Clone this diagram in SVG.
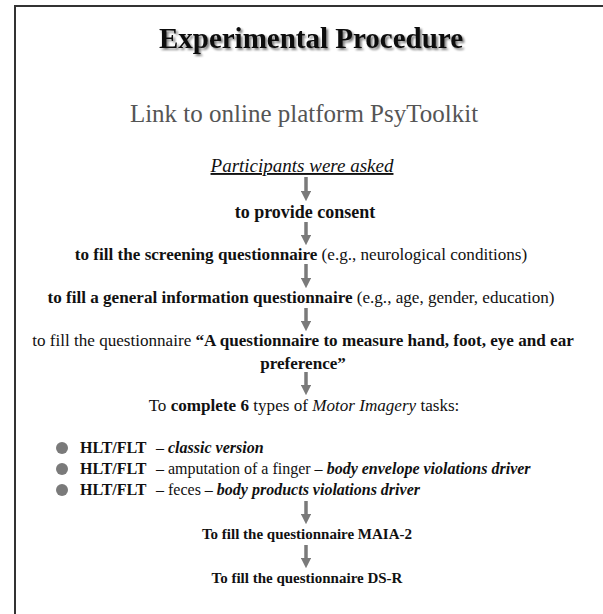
<svg xmlns="http://www.w3.org/2000/svg" width="603" height="614" viewBox="0 0 603 614">
<style>
text{font-family:"Liberation Serif","Times New Roman",serif;fill:#111}
.c{text-anchor:middle}
.b{font-weight:bold}
.i{font-style:italic}
.body{font-size:17.1px}
.small{font-size:16px}
.arrow{stroke:#7a7a7a;stroke-width:3.5;fill:none}
.bul{fill:#7a7a7a}
</style>
<defs>
<marker id="ah" markerWidth="3" markerHeight="3" refX="1.5" refY="1.5" orient="auto" markerUnits="strokeWidth" viewBox="0 0 3 3">
<path d="M0,0 L3,1.5 L0,3 Z" fill="#7a7a7a"/>
</marker>
<filter id="sh" x="-10%" y="-30%" width="120%" height="160%">
<feGaussianBlur in="SourceAlpha" stdDeviation="1.2" result="bl"/>
<feOffset in="bl" dx="2" dy="2" result="of"/>
<feComponentTransfer in="of" result="sf"><feFuncA type="linear" slope="0.5"/></feComponentTransfer>
<feMerge><feMergeNode in="sf"/><feMergeNode in="SourceGraphic"/></feMerge>
</filter>
</defs>
<rect width="603" height="614" fill="#fff"/>
<path d="M15,614 V6 H603" fill="none" stroke="#333" stroke-width="2"/>

<g id="title">
<text x="311" y="48" class="c b" font-size="29" filter="url(#sh)">Experimental Procedure</text>
</g>
<g id="link">
<text x="304" y="122" class="c" font-size="25" style="fill:#555">Link to online platform PsyToolkit</text>
</g>
<g id="participants">
<text x="302" y="172" class="c i" font-size="19" text-decoration="underline">Participants were asked</text>
</g>
<g id="consent">
<text x="305" y="218" class="c b" font-size="18">to provide consent</text>
</g>
<g id="screening">
<text x="301" y="260" class="c body"><tspan class="b">to fill the screening questionnaire</tspan> (e.g., neurological conditions)</text>
</g>
<g id="general">
<text x="301" y="303" class="c body"><tspan class="b">to fill a general information questionnaire</tspan> (e.g., age, gender, education)</text>
</g>
<g id="preference">
<text x="303" y="346" class="c body" font-size="16.9">to fill the questionnaire <tspan class="b">“A questionnaire to measure hand, foot, eye and ear</tspan></text>
<text x="303" y="369" class="c body b">preference”</text>
</g>
<g id="motor">
<text x="304" y="411" class="c body">To <tspan class="b">complete 6</tspan> types of <tspan class="i">Motor Imagery</tspan> tasks:</text>
</g>
<g id="tasks">
<circle class="bul" cx="62" cy="448" r="6"/>
<text x="80" y="453" class="small"><tspan class="b">HLT/FLT</tspan><tspan x="156">– </tspan><tspan class="b i">classic version</tspan></text>
<circle class="bul" cx="62" cy="469" r="6"/>
<text x="80" y="474" class="small"><tspan class="b">HLT/FLT</tspan><tspan x="156">– amputation of a finger – </tspan><tspan class="b i">body envelope violations driver</tspan></text>
<circle class="bul" cx="62" cy="490" r="6"/>
<text x="80" y="495" class="small"><tspan class="b">HLT/FLT</tspan><tspan x="156">– feces – </tspan><tspan class="b i">body products violations driver</tspan></text>
</g>
<g id="maia">
<text x="307" y="539" class="c b" font-size="15">To fill the questionnaire MAIA-2</text>
</g>
<g id="dsr">
<text x="307" y="583" class="c b" font-size="15">To fill the questionnaire DS-R</text>
</g>

<g id="connectors">
<line class="arrow" x1="306" y1="177" x2="306" y2="196" marker-end="url(#ah)"/>
<line class="arrow" x1="306" y1="222" x2="306" y2="240" marker-end="url(#ah)"/>
<line class="arrow" x1="306" y1="264" x2="306" y2="283" marker-end="url(#ah)"/>
<line class="arrow" x1="306" y1="308" x2="306" y2="326" marker-end="url(#ah)"/>
<line class="arrow" x1="306" y1="372" x2="306" y2="390" marker-end="url(#ah)"/>
<line class="arrow" x1="306" y1="501" x2="306" y2="519" marker-end="url(#ah)"/>
<line class="arrow" x1="306" y1="545" x2="306" y2="563" marker-end="url(#ah)"/>
</g>
</svg>
